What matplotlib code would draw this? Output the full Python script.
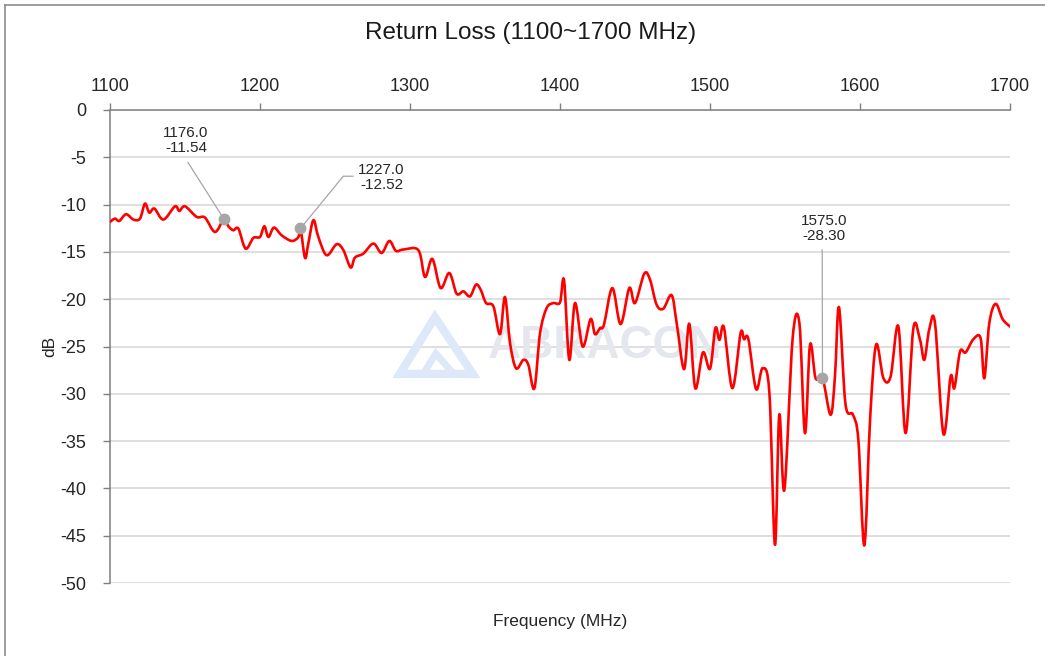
import numpy as np
import matplotlib.pyplot as plt
from matplotlib.lines import Line2D
from matplotlib.patches import Polygon, PathPatch
from matplotlib.path import Path

plt.rcParams['font.family'] = ['Liberation Sans', 'DejaVu Sans']
plt.rcParams['axes.unicode_minus'] = False

# Return loss trace (MHz, dB)
freq = [1100.0, 1103.3, 1106.2, 1110.7, 1115.6, 1120.0, 1123.3, 1126.2, 1129.6, 1135.6,
        1143.3, 1146.2, 1150.0, 1157.8, 1163.3, 1170.0, 1176.0, 1178.9, 1182.2, 1185.6,
        1190.4, 1195.6, 1200.0, 1202.9, 1205.6, 1209.3, 1214.4, 1221.1, 1225.6, 1227.0,
        1230.0, 1232.2, 1235.6, 1238.9, 1244.4, 1251.1, 1255.6, 1260.4, 1263.3, 1268.9,
        1275.6, 1281.1, 1286.2, 1290.6, 1295.6, 1305.6, 1310.0, 1314.9, 1320.4, 1326.2,
        1331.1, 1335.6, 1340.0, 1344.0, 1347.1, 1350.7, 1355.6, 1360.0, 1363.3, 1366.7,
        1370.7, 1375.6, 1378.9, 1382.9, 1386.7, 1391.1, 1395.6, 1400.0, 1402.7, 1406.2,
        1410.0, 1415.1, 1420.4, 1423.3, 1426.7, 1429.3, 1434.9, 1440.4, 1446.2, 1450.0,
        1456.2, 1460.0, 1464.4, 1468.9, 1474.4, 1477.8, 1482.7, 1486.2, 1490.2, 1495.3,
        1500.0, 1503.6, 1506.3, 1509.3, 1514.9, 1520.4, 1522.7, 1525.6, 1530.7, 1535.1,
        1539.6, 1543.3, 1546.2, 1549.6, 1555.1, 1559.6, 1563.3, 1566.7, 1570.4, 1575.0,
        1580.4, 1583.3, 1586.0, 1590.3, 1595.3, 1598.9, 1602.9, 1606.7, 1610.7, 1615.6,
        1620.4, 1625.6, 1630.4, 1635.6, 1640.0, 1642.9, 1646.2, 1650.0, 1655.6, 1660.4,
        1662.9, 1666.7, 1670.4, 1675.6, 1680.4, 1682.9, 1686.2, 1690.4, 1695.1, 1700.0]
loss = [-11.83, -11.48, -11.73, -11.02, -11.58, -11.48, -9.90, -10.85, -10.42, -11.58,
        -10.18, -10.67, -10.18, -11.30, -11.37, -12.89, -11.54, -12.29, -12.71, -12.54,
        -14.65, -13.52, -13.42, -12.29, -13.42, -12.43, -13.24, -13.84, -13.42, -12.52,
        -15.63, -14.12, -11.65, -13.42, -15.35, -14.19, -14.82, -16.65, -15.60, -15.18,
        -14.12, -15.11, -13.84, -14.89, -14.75, -14.82, -17.65, -15.74, -18.82, -17.23,
        -19.42, -19.17, -19.70, -18.46, -18.99, -20.40, -20.76, -23.69, -19.77, -24.65,
        -27.30, -26.41, -26.94, -29.42, -23.59, -20.94, -20.41, -20.34, -18.00, -26.41,
        -20.41, -25.00, -22.10, -23.69, -23.06, -22.70, -18.82, -22.63, -18.82, -20.41,
        -17.30, -17.93, -20.58, -21.00, -19.57, -22.54, -27.40, -22.60, -29.41, -25.63,
        -27.35, -23.06, -24.30, -22.99, -29.40, -23.59, -24.23, -24.23, -29.50, -27.29,
        -29.93, -45.95, -32.22, -40.14, -24.12, -22.54, -34.15, -24.82, -28.35, -28.30,
        -32.22, -28.17, -20.85, -31.05, -32.22, -34.86, -46.02, -32.75, -24.82, -28.35,
        -28.17, -22.89, -34.15, -23.06, -24.30, -26.41, -23.17, -22.54, -34.23, -28.17,
        -29.40, -25.53, -25.63, -24.23, -24.12, -28.35, -22.54, -20.49, -22.11, -22.89]

# marked points and where their labels sit
mark_f = [1176.0, 1227.0, 1575.0]
mark_db = [-11.54, -12.52, -28.30]
label_xy = [(1150.7, -3.2), (1281.0, -7.1), (1576.0, -12.5)]

x_ticks = [1100, 1200, 1300, 1400, 1500, 1600, 1700]
y_ticks = list(range(0, -55, -5))


def smooth_path(xs, ys):
    # Excel-style smoothed line: cubic Bezier segments through every point
    p = np.column_stack([xs, ys])
    ext = np.vstack([p[0], p, p[-1]])
    verts = [p[0]]
    codes = [Path.MOVETO]
    for i in range(len(p) - 1):
        p0, p1, p2, p3 = ext[i], ext[i + 1], ext[i + 2], ext[i + 3]
        verts += [p1 + (p2 - p0) / 6, p2 - (p3 - p1) / 6, p2]
        codes += [Path.CURVE4] * 3
    return Path(verts, codes)


fig = plt.figure(figsize=(10.45, 6.56), dpi=100)
ax = fig.add_axes([110 / 1045, 73 / 656, 900 / 1045, 473 / 656])

ax.add_patch(PathPatch(smooth_path(freq, loss), fill=False, edgecolor='#ff0000',
                       lw=1.9, joinstyle='round', capstyle='round', zorder=3))
ax.plot(mark_f, mark_db, 'o', color='#a6a6a6', ms=7.5, zorder=4)

# leader lines
ax.plot([1152, mark_f[0]], [-5.55, mark_db[0]], color='#a6a6a6', lw=0.9, zorder=2)
ax.plot([1262, 1255.5, mark_f[1]], [-7.0, -7.0, mark_db[1]], color='#a6a6a6', lw=0.9, zorder=2)
ax.plot([1574.8, mark_f[2]], [-14.8, mark_db[2]], color='#a6a6a6', lw=0.9, zorder=2)

for (lx, ly), f, d in zip(label_xy, mark_f, mark_db):
    ax.text(lx, ly, f'{f:.1f}\n{d:.2f}', fontsize=11, ha='center', va='center',
            color='#262626', linespacing=1.1, zorder=5)

# watermark
ax.text(0.42, 0.50, 'ABRACON', transform=ax.transAxes, fontsize=33, fontweight='bold',
        color='#e4e7ee', ha='left', va='center', zorder=1)
for pts, lw in [([(0.322, 0.442), (0.361, 0.562), (0.403, 0.442)], 6),
                ([(0.348, 0.442), (0.362, 0.485), (0.382, 0.442)], 5)]:
    ax.add_patch(Polygon(pts, closed=True, fill=False, edgecolor='#dde8f8', lw=lw,
                         transform=ax.transAxes, zorder=1))

ax.set_xlim(1100, 1700)
ax.set_ylim(-50, 0)
ax.set_xticks(x_ticks)
ax.set_yticks(y_ticks)
ax.xaxis.tick_top()
ax.xaxis.set_label_position('bottom')
ax.tick_params(axis='x', direction='out', length=5, width=1, color='#7f7f7f',
               labelsize=13, pad=6, labelcolor='#262626')
ax.tick_params(axis='y', direction='out', length=5, width=1, color='#7f7f7f',
               labelsize=13, pad=12, labelcolor='#262626')
ax.grid(axis='y', color='#d9d9d9', lw=1.2)
ax.set_axisbelow(True)
for side in ['right', 'bottom']:
    ax.spines[side].set_visible(False)
for side in ['top', 'left']:
    ax.spines[side].set_color('#7f7f7f')
    ax.spines[side].set_linewidth(1.1)

ax.set_xlabel('Frequency (MHz)', fontsize=12.5, color='#262626', labelpad=22)
ax.set_ylabel('dB', fontsize=12.5, color='#262626', labelpad=2)
fig.text(531 / 1045, 1 - 33 / 656, 'Return Loss (1100~1700 MHz)', fontsize=17.5,
         ha='center', va='center', color='#1a1a1a')

# chart area border (left and top edges show in the crop)
fig.add_artist(Line2D([4.5 / 1045, 4.5 / 1045], [0, 1 - 4.5 / 656], color='#8c8c8c', lw=1.2))
fig.add_artist(Line2D([4.5 / 1045, 1], [1 - 4.5 / 656, 1 - 4.5 / 656], color='#8c8c8c', lw=1.2))

fig.savefig('out.png', dpi=100)
